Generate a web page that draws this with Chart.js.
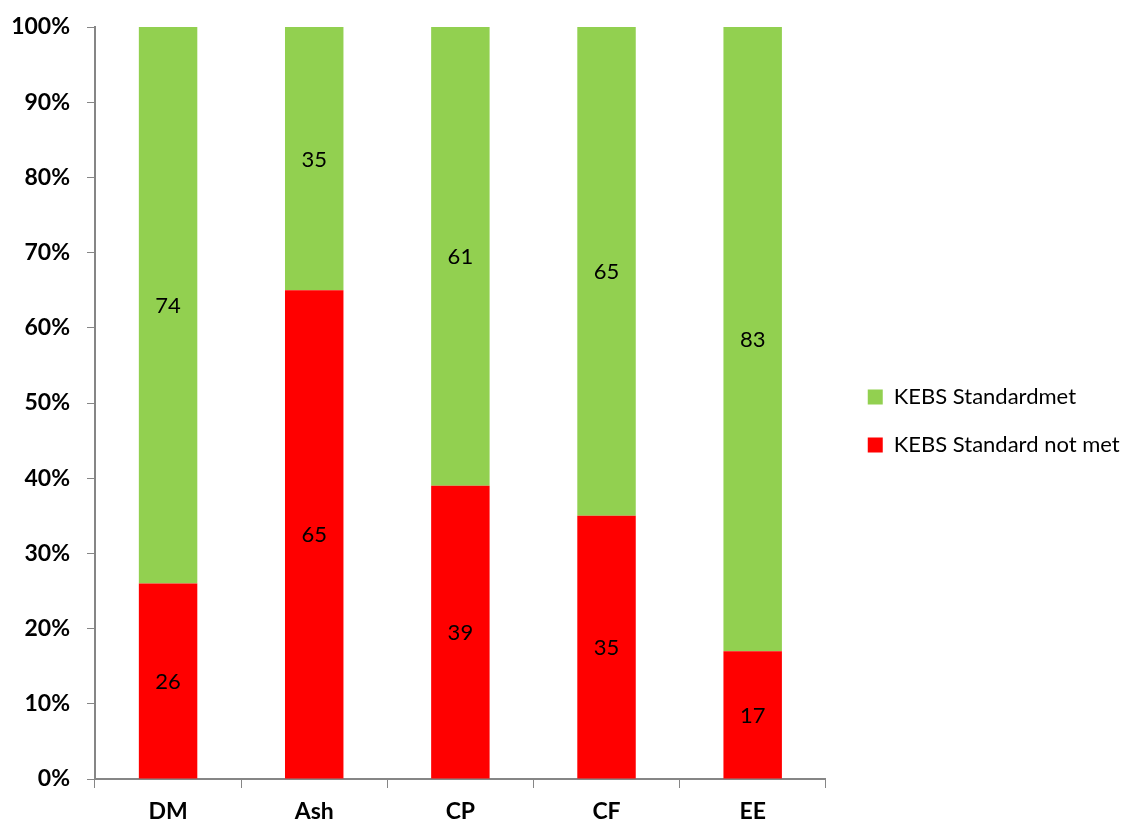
<!DOCTYPE html>
<html>
<head>
<meta charset="utf-8">
<script src="https://cdn.jsdelivr.net/npm/chart.js@4/dist/chart.umd.min.js"></script>
<style>
  body { margin: 0; background: #fff; }
  #wrap { width: 1140px; height: 823px; }
</style>
</head>
<body>
<div id="wrap"><canvas id="kebsChart" width="1140" height="823"></canvas></div>
<script>
// data
const categories = ["DM", "Ash", "CP", "CF", "EE"];
const notMet = [26, 65, 39, 35, 17];
const met = [74, 35, 61, 65, 83];
const yTicks = [0, 10, 20, 30, 40, 50, 60, 70, 80, 90, 100];

const FONT = "Lato, 'Open Sans', sans-serif";
const AXIS_GREY = "#868686";

// draws the value in the middle of each segment
const segmentLabels = {
  id: "segmentLabels",
  afterDatasetsDraw(chart) {
    const ctx = chart.ctx;
    ctx.save();
    ctx.font = "22px " + FONT;
    ctx.fillStyle = "#000";
    ctx.textAlign = "center";
    ctx.textBaseline = "middle";
    chart.data.datasets.forEach((ds, i) => {
      chart.getDatasetMeta(i).data.forEach((bar, j) => {
        const p = bar.getProps(["x", "y", "base"], true);
        ctx.fillText(ds.data[j], p.x, (p.y + p.base) / 2 + 1);
      });
    });
    ctx.restore();
  }
};

// push the legend a bit away from the plot, like the original
const legendGap = {
  id: "legendGap",
  afterLayout(chart) {
    const lg = chart.legend;
    if (lg) {
      lg.left += 16;
      lg.right = chart.width;
      lg.top -= 4;
      lg.bottom -= 4;
    }
  }
};

new Chart(document.getElementById("kebsChart"), {
  type: "bar",
  data: {
    labels: categories,
    datasets: [
      { label: "KEBS Standard not met", data: notMet, backgroundColor: "#FF0000" },
      { label: "KEBS Standardmet", data: met, backgroundColor: "#92D050" }
    ]
  },
  options: {
    responsive: false,
    animation: false,
    categoryPercentage: 1,
    barPercentage: 0.4,
    layout: { padding: { top: 27, left: 0, right: 39, bottom: 0 } },
    plugins: {
      tooltip: { enabled: false },
      legend: {
        position: "right",
        reverse: true,
        labels: {
          boxWidth: 15,
          boxHeight: 15,
          padding: 26,
          color: "#000",
          font: { family: FONT, size: 22 }
        }
      }
    },
    scales: {
      x: {
        stacked: true,
        grid: { offset: true, drawOnChartArea: false, tickLength: 9, color: AXIS_GREY },
        border: { color: AXIS_GREY, width: 2 },
        ticks: { color: "#000", padding: 10, font: { family: FONT, size: 23, weight: "bold" } },
        afterFit(scale) { scale.height = 44; }
      },
      y: {
        stacked: true,
        min: 0,
        max: 100,
        afterBuildTicks(scale) { scale.ticks = yTicks.map(v => ({ value: v })); },
        grid: { drawOnChartArea: false, tickLength: 8, color: AXIS_GREY },
        border: { color: AXIS_GREY, width: 2 },
        ticks: {
          color: "#000",
          padding: 17,
          font: { family: FONT, size: 23, weight: "bold" },
          callback: v => v + "%"
        },
        afterFit(scale) {
          scale.width = 95;
          scale.paddingTop = 0;
          scale.paddingBottom = 0;
        }
      }
    }
  },
  plugins: [segmentLabels, legendGap]
});
</script>
</body>
</html>
